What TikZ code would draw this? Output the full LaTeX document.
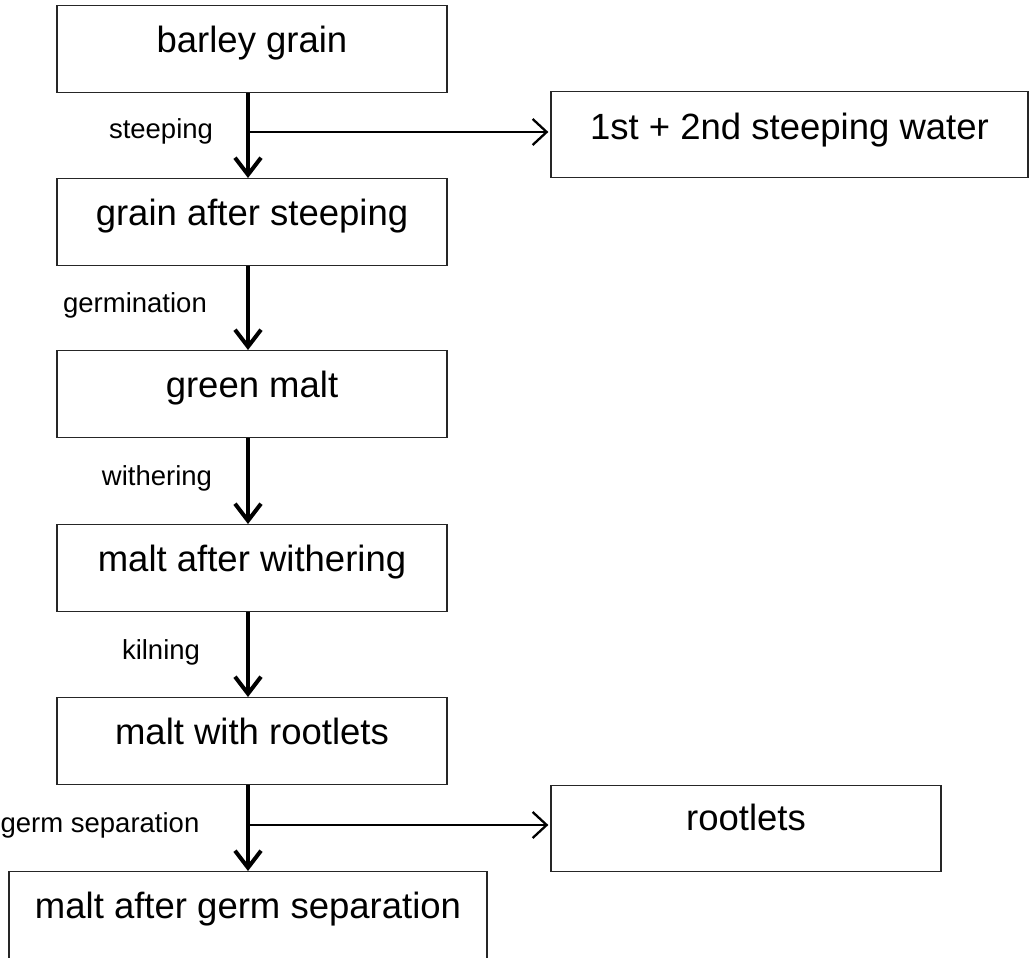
\documentclass[tikz,border=0pt]{standalone}
\usepackage{fontspec}
\setmainfont{Liberation Sans}
\usetikzlibrary{arrows.meta}
\tikzset{
  box/.style={draw=black!85, line width=1.3pt, inner xsep=0pt, inner ysep=0pt,
    text height=47pt, text depth=40pt, anchor=north,
    font=\fontsize{36.5}{40}\selectfont},
  lab/.style={font=\fontsize{27.5}{30}\selectfont, inner sep=0pt},
  mainarrow/.style={line width=4pt, -{Straight Barb[length=17pt,width=26pt]}},
  sidearrow/.style={line width=2.3pt, -{Straight Barb[length=14pt,width=26pt]}}
}
\begin{document}
\begin{tikzpicture}[x=1pt,y=-1pt]
\useasboundingbox (0,0) rectangle (1029,958);
\node[box, minimum width=390pt] (barley) at (252,5) {barley grain};
\node[box, minimum width=477pt, text height=48pt, text depth=38pt] (water) at (789.5,91) {1st + 2nd steeping water};
\node[box, minimum width=390pt] (steeped) at (252,178) {grain after steeping};
\node[box, minimum width=390pt] (green) at (252,350) {green malt};
\node[box, minimum width=390pt] (withered) at (252,524) {malt after withering};
\node[box, minimum width=390pt] (kilned) at (252,697) {malt with rootlets};
\node[box, minimum width=390pt, text height=45pt, text depth=41pt] (rootlets) at (746,785) {rootlets};
\node[box, minimum width=478pt] (final) at (248,871) {malt after germ separation};

\node[lab] (l1) at (161,131) {steeping};
\node[lab] (l2) at (135,305) {germination};
\node[lab] (l3) at (157,478) {withering};
\node[lab] (l4) at (161,652) {kilning};
\node[lab] (l5) at (100,825) {germ separation};

\draw[mainarrow] ([xshift=-4pt]barley.south) -- ([xshift=-4pt]steeped.north);
\draw[mainarrow] ([xshift=-4pt]steeped.south) -- ([xshift=-4pt]green.north);
\draw[mainarrow] ([xshift=-4pt]green.south) -- ([xshift=-4pt]withered.north);
\draw[mainarrow] ([xshift=-4pt]withered.south) -- ([xshift=-4pt]kilned.north);
\draw[mainarrow] ([xshift=-4pt]kilned.south) -- (final.north);

\coordinate (j1) at ([xshift=-4pt]barley.south |- 0,132);
\coordinate (j2) at (final.north |- 0,825);
\draw[sidearrow] (j1) -- ([xshift=-2pt]water.west |- j1);
\draw[sidearrow] (j2) -- ([xshift=-2pt]rootlets.west |- j2);
\end{tikzpicture}
\end{document}
